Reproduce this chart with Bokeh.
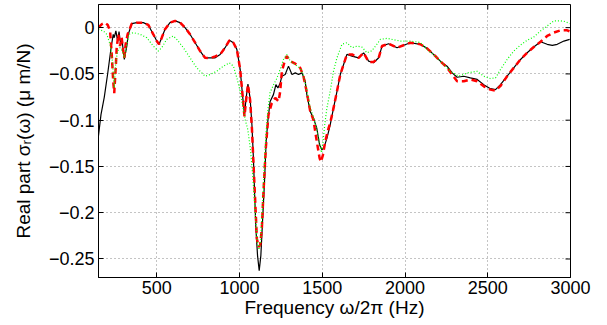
from bokeh.plotting import figure
from bokeh.models import Range1d, FixedTicker
from bokeh.embed import file_html
from bokeh.resources import INLINE

# ---- data ----
black_freq = [147, 163, 183, 204, 224, 237, 243, 253, 264, 272, 282, 292, 304, 319, 328, 349, 379, 419, 449, 479,
              500, 514, 530, 550, 580, 611, 641, 671, 701, 732, 762, 792, 822, 853, 883, 913, 939, 963, 984, 1004,
              1018, 1030, 1040, 1051, 1064, 1075, 1084, 1091, 1099, 1109, 1119, 1129, 1139, 1151, 1161, 1171, 1185,
              1205, 1220, 1232, 1246, 1256, 1276, 1296, 1317, 1337, 1357, 1377, 1397, 1407, 1427, 1447, 1467, 1484,
              1498, 1512, 1528, 1548, 1568, 1589, 1609, 1629, 1649, 1680, 1720, 1750, 1780, 1810, 1841, 1861, 1901,
              1952, 2032, 2093, 2133, 2184, 2224, 2254, 2285, 2315, 2355, 2395, 2436, 2476, 2516, 2547, 2577, 2617,
              2657, 2698, 2738, 2778, 2819, 2859, 2890, 2920, 2960, 2995]
black_sigma = [-0.118, -0.094, -0.075, -0.049, -0.0217, -0.0072, -0.0109, -0.0036, -0.0145, -0.0043, -0.018, -0.0163,
               -0.0344, -0.0199, -0.0072, 0.0043, 0.0054, 0.0054, 0.0029, -0.0072, -0.0145, -0.018, -0.0109, -0.0018,
               0.0054, 0.0073, 0.0054, 0.0, -0.0072, -0.0163, -0.0253, -0.0326, -0.0326, -0.0326, -0.029, -0.0217,
               -0.0137, -0.0163, -0.0235, -0.045, -0.0724, -0.0942, -0.0761, -0.0609, -0.0761, -0.105, -0.141,
               -0.1775, -0.2174, -0.2463, -0.2626, -0.2463, -0.210, -0.1666, -0.123, -0.1014, -0.0797, -0.0724,
               -0.0615, -0.0652, -0.0598, -0.0525, -0.0507, -0.0416, -0.0507, -0.0489, -0.0507, -0.0489, -0.058,
               -0.0724, -0.0905, -0.0978, -0.1087, -0.1268, -0.132, -0.1286, -0.1196, -0.105, -0.087, -0.0688,
               -0.0507, -0.0398, -0.0289, -0.0308, -0.0326, -0.0272, -0.0362, -0.038, -0.0326, -0.0199, -0.0174,
               -0.0217, -0.0163, -0.018, -0.0224, -0.0308, -0.038, -0.0416, -0.0489, -0.0536, -0.0525, -0.0543,
               -0.056, -0.0616, -0.066, -0.067, -0.0616, -0.0525, -0.0435, -0.0344, -0.0272, -0.021, -0.0152,
               -0.018, -0.0192, -0.018, -0.0145, -0.0127]

red_freq = [147, 167, 187, 204, 218, 228, 237, 243, 252, 258, 268, 278, 288, 298, 304, 312, 324, 349, 379, 419, 449,
            479, 500, 514, 530, 550, 580, 611, 641, 671, 701, 732, 762, 792, 822, 853, 883, 913, 939, 963, 984, 1004,
            1018, 1030, 1040, 1051, 1064, 1075, 1084, 1095, 1105, 1115, 1125, 1135, 1145, 1159, 1175, 1195, 1216,
            1236, 1246, 1256, 1276, 1286, 1306, 1337, 1367, 1387, 1407, 1427, 1447, 1467, 1484, 1492, 1504, 1518,
            1538, 1548, 1568, 1589, 1609, 1629, 1649, 1680, 1720, 1750, 1780, 1810, 1841, 1861, 1901, 1952, 2032,
            2093, 2133, 2184, 2224, 2254, 2285, 2315, 2355, 2395, 2436, 2476, 2516, 2547, 2577, 2617, 2657, 2698,
            2738, 2778, 2819, 2859, 2899, 2940, 2980, 2995]
red_sigma = [0.0, 0.0036, 0.0054, 0.0029, -0.0036, -0.029, -0.058, -0.0707, -0.0435, -0.0217, -0.0072, -0.0199,
             -0.0109, -0.0253, -0.0326, -0.018, -0.0072, 0.0043, 0.0054, 0.0054, 0.0029, -0.0072, -0.0145, -0.018,
             -0.0109, -0.0018, 0.0054, 0.0073, 0.0054, 0.0, -0.0072, -0.0163, -0.0253, -0.0326, -0.033, -0.031,
             -0.029, -0.0217, -0.0137, -0.0163, -0.0235, -0.045, -0.072, -0.096, -0.078, -0.0616, -0.078, -0.1087,
             -0.145, -0.188, -0.228, -0.237, -0.235, -0.217, -0.1775, -0.130, -0.094, -0.0815, -0.076, -0.0797,
             -0.0688, -0.0471, -0.0344, -0.0308, -0.0362, -0.039, -0.0435, -0.053, -0.070, -0.090, -0.100, -0.123,
             -0.141, -0.145, -0.1377, -0.123, -0.1087, -0.103, -0.087, -0.0688, -0.0507, -0.0398, -0.0289, -0.029,
             -0.0326, -0.0272, -0.037, -0.037, -0.0326, -0.0199, -0.0174, -0.0217, -0.0163, -0.018, -0.0224,
             -0.0308, -0.038, -0.043, -0.051, -0.058, -0.058, -0.056, -0.058, -0.0634, -0.067, -0.068, -0.063,
             -0.0525, -0.0435, -0.0344, -0.0272, -0.021, -0.0152, -0.009, -0.0054, -0.0029, -0.0029, -0.004]

green_freq = [147, 177, 198, 218, 232, 243, 253, 264, 278, 292, 304, 319, 332, 358, 399, 440, 479, 510, 530, 560,
              600, 621, 661, 701, 742, 772, 792, 822, 863, 903, 939, 963, 984, 1004, 1020, 1035, 1050, 1065, 1080,
              1095, 1108, 1118, 1128, 1140, 1150, 1160, 1172, 1185, 1205, 1225, 1246, 1266, 1286, 1306, 1337, 1367,
              1387, 1407, 1427, 1447, 1467, 1484, 1495, 1505, 1515, 1528, 1548, 1568, 1589, 1619, 1649, 1680, 1710,
              1740, 1770, 1800, 1830, 1851, 1891, 1930, 1972, 2032, 2093, 2133, 2184, 2234, 2274, 2325, 2375, 2436,
              2476, 2516, 2547, 2577, 2617, 2657, 2698, 2738, 2778, 2819, 2859, 2899, 2940, 2970, 2995]
green_sigma = [-0.0018, -0.0036, -0.0072, -0.018, -0.0362, -0.0652, -0.0362, -0.0253, -0.0217, -0.0253, -0.0326,
               -0.018, -0.0072, -0.0054, -0.0072, -0.0109, -0.0199, -0.0253, -0.0217, -0.0127, -0.009, -0.0127,
               -0.0217, -0.0326, -0.0435, -0.0489, -0.0525, -0.0507, -0.047, -0.0416, -0.038, -0.0416, -0.0543,
               -0.0688, -0.085, -0.100, -0.110, -0.130, -0.160, -0.200, -0.232, -0.240, -0.230, -0.190, -0.150,
               -0.115, -0.088, -0.070, -0.062, -0.055, -0.045, -0.0344, -0.029, -0.036, -0.040, -0.044, -0.052,
               -0.068, -0.086, -0.097, -0.110, -0.125, -0.135, -0.123, -0.105, -0.087, -0.0688, -0.047, -0.0326,
               -0.018, -0.0163, -0.0217, -0.020, -0.021, -0.0272, -0.025, -0.018, -0.0127, -0.0116, -0.013,
               -0.0145, -0.0145, -0.016, -0.0236, -0.031, -0.040, -0.0471, -0.0525, -0.049, -0.0471, -0.0525,
               -0.055, -0.0543, -0.0452, -0.0344, -0.0253, -0.0188, -0.0137, -0.0101, -0.0036, 0.0018, 0.0073,
               0.0073, 0.0065, 0.0043]

x_ticks = [500, 1000, 1500, 2000, 2500, 3000]
x_tick_labels = ["500", "1000", "1500", "2000", "2500", "3000"]
y_ticks = [-0.25, -0.2, -0.15, -0.1, -0.05, 0]
y_tick_labels = ["\u22120.25", "\u22120.2", "\u22120.15", "\u22120.1", "\u22120.05", "0"]

FONT = "Liberation Sans"
X0, X1 = 148, 3000
Y0, Y1 = -0.27, 0.025
W, H = 607, 325
BL, BR, BT, BB = 98, 37, 4, 48
TICK = 5  # px, inward tick length

p = figure(width=W, height=H, output_backend="svg", toolbar_location=None,
           x_range=Range1d(X0, X1), y_range=Range1d(Y0, Y1),
           min_border_left=BL, min_border_right=BR, min_border_top=BT, min_border_bottom=BB)
p.background_fill_color = "white"
p.border_fill_color = "white"
p.outline_line_color = "black"
p.outline_line_width = 1

xt = FixedTicker(ticks=x_ticks)
yt = FixedTicker(ticks=y_ticks)

for ax, ticker, ticks, labels in ((p.xaxis[0], xt, x_ticks, x_tick_labels),
                                  (p.yaxis[0], yt, y_ticks, y_tick_labels)):
    ax.ticker = ticker
    ax.major_tick_in = TICK
    ax.major_tick_out = 0
    ax.minor_tick_line_color = None
    ax.axis_line_color = "black"
    ax.major_tick_line_color = "black"
    ax.major_label_overrides = dict(zip(ticks, labels))
    ax.major_label_text_font = FONT
    ax.major_label_text_font_size = "18px"
    ax.major_label_text_color = "black"
    ax.axis_label_text_font = FONT
    ax.axis_label_text_font_size = "19px"
    ax.axis_label_text_font_style = "normal"
    ax.axis_label_text_color = "black"

p.xaxis[0].major_label_standoff = 3
p.yaxis[0].major_label_standoff = 4
p.xaxis[0].axis_label = "Frequency \u03c9/2\u03c0 (Hz)"
p.yaxis[0].axis_label = "Real part \u03c3\u1d63(\u03c9) (\u03bc m/N)"
p.xaxis[0].axis_label_standoff = 0
p.yaxis[0].axis_label_standoff = 12

p.xgrid.ticker = xt
p.ygrid.ticker = yt
for g in (p.xgrid[0], p.ygrid[0]):
    g.grid_line_color = "#888888"
    g.grid_line_dash = "1 3"
    g.grid_line_width = 1

p.line(black_freq, black_sigma, line_color="black", line_width=1.2)
p.line(red_freq, red_sigma, line_color="#ff0000", line_width=2.5, line_dash="6 4")
p.line(green_freq, green_sigma, line_color="#00ff00", line_width=1.2, line_dash="1 2")

# mirrored inward tick marks on the top and right sides of the box
frame_w = W - BL - BR
frame_h = H - BT - BB
dy = TICK * (Y1 - Y0) / frame_h
dx = TICK * (X1 - X0) / frame_w
p.segment(x0=x_ticks, y0=[Y1] * len(x_ticks), x1=x_ticks, y1=[Y1 - dy] * len(x_ticks),
          line_color="black", line_width=1)
p.segment(x0=[X1] * len(y_ticks), y0=y_ticks, x1=[X1 - dx] * len(y_ticks), y1=y_ticks,
          line_color="black", line_width=1)

open("out.html", "w").write(file_html(p, INLINE))
